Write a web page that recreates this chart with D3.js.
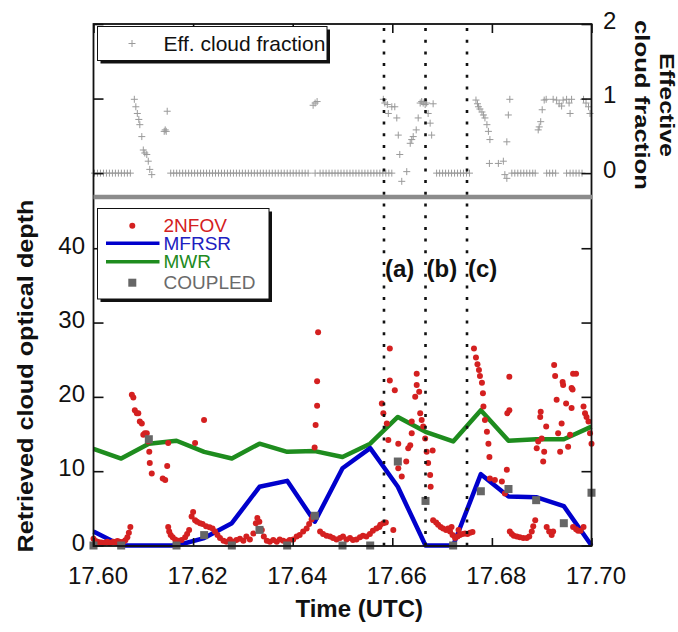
<!DOCTYPE html>
<html>
<head>
<meta charset="utf-8">
<script src="https://cdn.jsdelivr.net/npm/d3@7"></script>
<style>
  body { margin: 0; background: #fff; }
  text { font-family: "Liberation Sans", Arial, Helvetica, sans-serif; }
</style>
</head>
<body>
<svg width="678" height="632"></svg>
<script>
// retrieval times (20 s steps), hours UTC
var retrievalTimes = [17.6, 17.60556, 17.61111, 17.61667, 17.62222, 17.62778, 17.63333, 17.63889, 17.64444, 17.65,
  17.65556, 17.66111, 17.66667, 17.67222, 17.67778, 17.68333, 17.68889, 17.69444, 17.7];
var mwrTau = [13.0, 11.7, 13.7, 14.1, 12.6, 11.7, 13.7, 12.6, 12.7, 11.9, 13.7, 17.3, 15.3, 14.0, 18.2, 14.1, 14.3, 14.3, 16.0];
var mfrsrTau = [1.9, 0, 0, 0, 1.0, 3.0, 7.9, 8.7, 3.2, 10.4, 13.1, 7.9, 0, 0, 9.6, 6.6, 6.5, 5.3, 0];
var coupledTau = [0, 0, 14.3, 0, 1.4, 0, 2.1, 0, 4.0, 0, 0, 11.3, 6.0, 0, 7.3, 7.6, 6.1, 3.0, 7.1];

// 2NFOV retrievals [time, tau]
var nfov = [
  [17.6000,0.9],[17.6004,0.6],[17.6008,0.5],[17.6012,0.4],[17.6016,0.4],[17.6020,0.3],[17.6024,0.4],[17.6028,0.5],
  [17.6032,0.3],[17.6036,0.4],[17.6040,0.5],[17.6044,0.4],[17.6048,0.6],[17.6052,0.5],[17.6056,0.4],[17.6060,0.5],
  [17.6064,0.7],[17.6068,1.1],[17.6071,1.7],[17.6074,2.5],
  [17.6077,20.3],[17.6080,19.9],[17.6083,18.2],[17.6087,17.8],[17.6090,17.8],[17.6093,16.7],[17.6097,16.4],
  [17.6100,14.9],[17.6103,15.1],[17.6107,15.1],[17.6110,14.0],[17.6112,12.6],[17.6113,11.1],[17.6117,9.7],
  [17.6139,9.0],[17.6144,8.8],[17.6148,10.7],[17.6150,13.8],[17.6204,13.8],[17.6222,16.9],
  [17.6150,2.5],[17.6152,1.9],[17.6155,1.4],[17.6159,1.1],[17.6164,0.8],[17.6170,0.65],[17.6177,0.75],[17.6184,1.1],
  [17.6188,1.55],[17.6192,2.1],
  [17.6197,3.9],[17.6200,4.5],[17.6204,3.4],[17.6208,3.2],[17.6214,3.0],[17.6219,2.9],[17.6226,2.6],[17.6233,2.45],
  [17.6239,2.3],[17.6244,1.9],[17.6249,1.4],[17.6254,1.0],[17.6261,0.65],[17.6267,0.5],[17.6274,0.8],[17.6281,0.5],
  [17.6287,0.75],[17.6294,0.9],[17.6301,0.65],[17.6307,1.2],[17.6314,0.8],[17.6321,1.6],[17.6326,3.0],[17.6329,3.7],
  [17.6333,3.2],[17.6338,2.1],[17.6342,1.2],[17.6348,0.65],[17.6354,0.5],[17.6361,0.75],[17.6368,0.5],[17.6374,0.8],
  [17.6381,0.65],[17.6388,0.5],[17.6394,0.75],[17.6401,0.8],[17.6408,1.2],[17.6414,1.4],[17.6421,1.9],[17.6428,2.3],
  [17.6433,2.9],[17.6438,3.5],[17.6441,4.0],
  [17.6444,13.2],[17.6446,16.2],[17.6449,18.8],[17.6449,22.1],[17.6451,28.7],
  [17.6455,1.9],[17.6461,1.55],[17.6468,1.3],[17.6475,1.2],[17.6481,1.0],[17.6488,0.8],[17.6495,1.0],[17.6501,1.2],
  [17.6508,0.8],[17.6515,1.0],[17.6521,0.75],[17.6528,0.8],[17.6535,1.1],[17.6541,1.3],[17.6548,1.2],[17.6555,1.55],
  [17.6561,2.0],[17.6568,2.3],[17.6574,2.5],[17.6576,2.8],[17.6582,3.0],[17.6587,3.1],[17.6602,2.1],
  [17.6579,19.1],[17.6582,17.8],[17.6589,16.4],[17.6592,14.2],[17.6595,22.2],[17.6595,26.5],[17.6605,20.9],
  [17.6612,13.7],[17.6612,10.4],[17.6619,9.3],[17.6628,11.3],[17.6632,13.1],[17.6636,13.5],[17.6639,15.1],
  [17.6639,16.7],[17.6646,20.0],[17.6649,21.6],[17.6649,23.1],[17.6654,20.7],[17.6656,17.8],[17.6659,16.9],
  [17.6662,16.0],[17.6666,14.4],[17.6669,12.6],[17.6672,11.1],[17.6676,9.5],[17.6677,7.9],[17.6681,12.8],
  [17.6682,3.4],[17.6688,3.1],[17.6692,2.8],[17.6697,2.5],[17.6702,2.3],[17.6708,2.1],[17.6712,2.3],[17.6716,1.9],
  [17.6719,2.5],[17.6721,1.4],[17.6726,1.0],[17.6731,1.2],[17.6733,2.1],[17.6736,1.4],[17.6741,1.55],[17.6746,1.6],
  [17.6751,1.55],[17.6756,1.7],[17.6761,1.8],
  [17.6764,26.5],[17.6768,25.3],[17.6771,24.4],[17.6774,23.6],[17.6776,22.8],[17.6780,21.9],[17.6782,20.5],
  [17.6783,18.7],[17.6786,16.9],[17.6790,15.3],[17.6793,13.7],[17.6795,11.9],[17.6796,9.0],[17.6806,8.8],
  [17.6820,8.6],[17.6830,10.2],[17.6826,7.0],[17.6831,17.8],[17.6835,18.2],[17.6835,22.7],
  [17.6836,1.9],[17.6840,1.55],[17.6844,1.3],[17.6850,1.2],[17.6856,1.1],[17.6863,1.0],[17.6870,1.0],[17.6875,1.2],
  [17.6880,1.9],[17.6883,2.6],[17.6887,3.4],
  [17.6890,13.1],[17.6893,14.0],[17.6897,17.3],[17.6898,18.0],[17.6900,14.4],[17.6903,11.3],[17.6905,12.6],
  [17.6909,16.0],[17.6925,24.3],[17.6927,22.8],[17.6930,19.6],[17.6933,15.1],[17.6937,12.6],[17.6940,16.4],
  [17.6942,22.0],[17.6943,21.6],[17.6949,19.1],[17.6953,13.3],[17.6957,14.9],[17.6960,18.5],[17.6960,21.2],
  [17.6962,21.0],[17.6963,23.1],[17.6969,23.1],[17.6984,18.7],[17.6987,17.8],[17.6990,17.3],[17.6994,16.7],
  [17.6997,15.1],[17.7000,13.7],
  [17.6910,2.5],[17.6915,1.9],[17.6920,1.4],[17.6923,1.9],
  [17.6963,2.5],[17.6969,2.2],[17.6973,2.0],[17.6978,2.0],[17.6984,2.5]
];

// effective cloud fraction [time, fraction]
var cloudFraction = [
  [17.6002,0],[17.6008,0],[17.6014,0],[17.6020,0],[17.6026,0],[17.6032,0],[17.6038,0],[17.6044,0],[17.6050,0],
  [17.6056,0],[17.6062,0],[17.6068,0],[17.6074,0],
  [17.6082,0.99],[17.6085,0.89],[17.6088,0.80],[17.6091,0.72],[17.6093,0.65],[17.6097,0.49],[17.6100,0.31],
  [17.6103,0.27],[17.6107,0.25],[17.6110,0.16],[17.6113,0.05],[17.6117,-0.02],
  [17.6142,0.56],[17.6144,0.58],[17.6146,0.56],[17.6148,0.83],
  [17.6155,0],[17.6161,0],[17.6167,0],[17.6173,0],[17.6179,0],[17.6185,0],[17.6191,0],[17.6197,0],[17.6203,0],
  [17.6209,0],[17.6215,0],[17.6221,0],[17.6227,0],[17.6233,0],[17.6239,0],[17.6245,0],[17.6251,0],[17.6257,0],
  [17.6263,0],[17.6269,0],[17.6275,0],[17.6281,0],[17.6287,0],[17.6293,0],[17.6299,0],[17.6305,0],[17.6311,0],
  [17.6317,0],[17.6323,0],[17.6329,0],[17.6335,0],[17.6341,0],[17.6347,0],[17.6353,0],[17.6359,0],[17.6365,0],
  [17.6371,0],[17.6377,0],[17.6383,0],[17.6389,0],[17.6395,0],[17.6401,0],[17.6407,0],[17.6413,0],[17.6419,0],
  [17.6425,0],[17.6431,0],
  [17.6441,0.91],[17.6445,0.94],[17.6449,0.96],[17.6445,0],
  [17.6455,0],[17.6461,0],[17.6467,0],[17.6473,0],[17.6479,0],[17.6485,0],[17.6491,0],[17.6497,0],[17.6503,0],
  [17.6509,0],[17.6515,0],[17.6521,0],[17.6527,0],[17.6533,0],[17.6539,0],[17.6545,0],[17.6551,0],[17.6557,0],
  [17.6563,0],[17.6569,0],[17.6575,0],[17.6581,0],[17.6587,0],[17.6593,0],[17.6599,0],
  [17.6582,0.99],[17.6585,0.94],[17.6592,0.80],[17.6590,0.92],[17.6599,0.89],[17.6605,0.89],[17.6609,0.74],
  [17.6612,0.51],[17.6615,0.25],[17.6619,-0.11],[17.6629,0.02],[17.6636,0.40],[17.6639,0.45],[17.6642,0.49],
  [17.6648,0.58],[17.6652,0.74],[17.6656,0.94],[17.6659,0.96],[17.6662,0.94],[17.6666,0.92],[17.6669,0.94],
  [17.6672,0.80],[17.6676,0.67],[17.6679,0.51],[17.6682,0.93],
  [17.6689,0],[17.6695,0],[17.6701,0],[17.6707,0],[17.6713,0],[17.6719,0],[17.6725,0],[17.6731,0],[17.6737,0],
  [17.6743,0],[17.6749,0],[17.6755,0],
  [17.6768,0.98],[17.6771,0.93],[17.6773,0.89],[17.6776,0.86],[17.6780,0.82],[17.6783,0.78],[17.6786,0.74],
  [17.6790,0.65],[17.6793,0.56],[17.6796,0.45],[17.6795,0.13],[17.6813,0.13],[17.6823,0.16],[17.6826,-0.02],
  [17.6830,-0.07],[17.6830,0.42],[17.6833,0.78],[17.6836,0.99],
  [17.6840,0],[17.6846,0],[17.6852,0],[17.6858,0],[17.6864,0],[17.6870,0],[17.6876,0],[17.6882,0],[17.6887,0],
  [17.6893,0.58],[17.6895,0.62],[17.6898,0.69],[17.6901,0.85],[17.6905,0.98],[17.6909,0.99],[17.6923,0.99],
  [17.6930,0.98],[17.6935,0.93],[17.6940,0.90],[17.6943,0.98],[17.6950,0.99],[17.6955,0.94],[17.6957,0.80],
  [17.6960,0.99],[17.6984,0.99],[17.6989,0.94],[17.6994,0.89],[17.6997,0.80],
  [17.6910,0],[17.6916,0],[17.6922,0],[17.6928,0],[17.6950,0],[17.6957,0],[17.6963,0],[17.6969,0],[17.6975,0],
  [17.6981,0]
];

var eventTimes = [17.65833, 17.66667, 17.675];
var eventLabels = ["(a)", "(b)", "(c)"];
var timeTicks = [17.60, 17.62, 17.64, 17.66, 17.68, 17.70];
var tauTicks = [0, 10, 20, 30, 40];
var fractionTicks = [0, 1, 2];
var seriesNames = ["2NFOV", "MFRSR", "MWR", "COUPLED"];
var seriesColors = ["#d42020", "#0000cc", "#1e8c1e", "#666666"];

var svg = d3.select("svg");
var left = 93.5, right = 591.5, top1 = 24, mid = 197, bottom = 546;

var xScale = d3.scaleLinear().domain([17.6, 17.7]).range([left, right]);
var yTop = d3.scaleLinear().domain([-0.3, 2]).range([mid - 1.5, top1]);
var yBot = d3.scaleLinear().domain([0, 46.8]).range([545.5, mid + 0.7]);

// ---- top panel
var topG = svg.append("g");
topG.selectAll("path.cf")
  .data(cloudFraction)
  .enter()
  .append("path")
  .attr("class", "cf")
  .attr("d", function (d) {
    var x = xScale(d[0]), y = yTop(d[1]);
    return "M" + (x - 3.5) + "," + y + "H" + (x + 3.5) + "M" + x + "," + (y - 3.5) + "V" + (y + 3.5);
  })
  .attr("stroke", "#9a9a9a")
  .attr("stroke-width", 1)
  .attr("fill", "none");

// ---- bottom panel lines
var line = d3.line()
  .x(function (d) { return xScale(d[0]) })
  .y(function (d) { return yBot(d[1]) });

svg.append("path")
  .datum(d3.zip(retrievalTimes, mwrTau))
  .attr("d", line)
  .attr("fill", "none")
  .attr("stroke", seriesColors[2])
  .attr("stroke-width", 4.5)
  .attr("stroke-linejoin", "round");

svg.append("path")
  .datum(d3.zip(retrievalTimes, mfrsrTau))
  .attr("d", line)
  .attr("fill", "none")
  .attr("stroke", seriesColors[1])
  .attr("stroke-width", 4.5)
  .attr("stroke-linejoin", "round");

svg.selectAll("circle.nfov")
  .data(nfov)
  .enter()
  .append("circle")
  .attr("class", "nfov")
  .attr("cx", function (d) { return xScale(d[0]) })
  .attr("cy", function (d) { return yBot(d[1]) })
  .attr("r", 3)
  .attr("fill", seriesColors[0]);

svg.selectAll("rect.coupled")
  .data(d3.zip(retrievalTimes, coupledTau))
  .enter()
  .append("rect")
  .attr("class", "coupled")
  .attr("x", function (d) { return xScale(d[0]) - 4 })
  .attr("y", function (d) { return yBot(d[1]) - 4 })
  .attr("width", 8)
  .attr("height", 8)
  .attr("fill", seriesColors[3]);

// ---- event markers
svg.selectAll("line.event")
  .data(eventTimes)
  .enter()
  .append("line")
  .attr("class", "event")
  .attr("x1", function (d) { return xScale(d) })
  .attr("x2", function (d) { return xScale(d) })
  .attr("y1", top1 + 4)
  .attr("y2", bottom)
  .attr("stroke", "#111")
  .attr("stroke-width", 2.6)
  .attr("stroke-dasharray", "3,8.7");

svg.selectAll("text.event")
  .data(eventTimes)
  .enter()
  .append("text")
  .attr("class", "event")
  .attr("x", function (d) { return xScale(d) + 1 })
  .attr("y", 277)
  .attr("font-size", 24)
  .attr("font-weight", "bold")
  .attr("fill", "#111")
  .text(function (d, i) { return eventLabels[i] });

// ---- axes
function styleAxis(g) {
  g.select(".domain").remove();
  g.selectAll("line").attr("stroke", "#111").attr("stroke-width", 1.6);
  g.selectAll("text").attr("font-size", 24).attr("fill", "#111")
    .attr("font-family", "Liberation Sans, Arial, sans-serif");
}

svg.append("g").attr("transform", "translate(0," + bottom + ")")
  .call(d3.axisBottom(xScale).tickValues(timeTicks).tickFormat(d3.format(".2f"))
    .tickSizeInner(-8).tickSizeOuter(0).tickPadding(21))
  .call(styleAxis)
  .selectAll("text").attr("dx", 4);

svg.append("g").attr("transform", "translate(0," + top1 + ")")
  .call(d3.axisTop(xScale).tickValues(timeTicks).tickFormat("").tickSizeInner(-9).tickSizeOuter(0))
  .call(styleAxis);

svg.append("g").attr("transform", "translate(" + left + ",0)")
  .call(d3.axisLeft(yBot).tickValues(tauTicks).tickSizeInner(-10).tickSizeOuter(0).tickPadding(8.5))
  .call(styleAxis)
  .selectAll("text").attr("dy", "0.2em");

svg.append("g").attr("transform", "translate(" + right + ",0)")
  .call(d3.axisRight(yBot).tickValues(tauTicks).tickFormat("").tickSizeInner(-10).tickSizeOuter(0))
  .call(styleAxis);

svg.append("g").attr("transform", "translate(" + left + ",0)")
  .call(d3.axisLeft(yTop).tickValues(fractionTicks).tickFormat("").tickSizeInner(-10).tickSizeOuter(0))
  .call(styleAxis);

svg.append("g").attr("transform", "translate(" + right + ",0)")
  .call(d3.axisRight(yTop).tickValues(fractionTicks).tickFormat(d3.format("d")).tickSizeInner(-10).tickSizeOuter(0).tickPadding(11.5))
  .call(styleAxis)
  .selectAll("text").attr("dy", "0.18em");

// frame
svg.append("rect")
  .attr("x", left).attr("y", top1)
  .attr("width", right - left).attr("height", bottom - top1)
  .attr("fill", "none").attr("stroke", "#111").attr("stroke-width", 1.8);

// separator band
svg.append("line")
  .attr("x1", left).attr("x2", right + 1)
  .attr("y1", mid).attr("y2", mid)
  .attr("stroke", "#8c8c8c").attr("stroke-width", 4.5);

// ---- legends
function legendBox(x, y, w, h) {
  svg.append("rect").attr("x", x + 3).attr("y", y + 3).attr("width", w).attr("height", h).attr("fill", "#111");
  svg.append("rect").attr("x", x).attr("y", y).attr("width", w).attr("height", h)
    .attr("fill", "#fff").attr("stroke", "#111").attr("stroke-width", 1);
}

legendBox(97.5, 26.5, 229.5, 34);
svg.append("path")
  .attr("d", "M128.5,43.5H135.5M132,40V47")
  .attr("stroke", "#9a9a9a").attr("stroke-width", 1);
svg.append("text").attr("x", 163.5).attr("y", 50.5)
  .attr("font-size", 21).attr("fill", "#111").text("Eff. cloud fraction");

legendBox(97.5, 208.5, 171.5, 90.5);
var legY = [225.7, 243.3, 261.8, 282.7];
var legG = svg.append("g");
legG.append("circle").attr("cx", 132.3).attr("cy", legY[0]).attr("r", 3).attr("fill", seriesColors[0]);
legG.append("line").attr("x1", 106).attr("x2", 159.5).attr("y1", legY[1]).attr("y2", legY[1])
  .attr("stroke", seriesColors[1]).attr("stroke-width", 3.5);
legG.append("line").attr("x1", 106).attr("x2", 159.5).attr("y1", legY[2]).attr("y2", legY[2])
  .attr("stroke", seriesColors[2]).attr("stroke-width", 3.5);
legG.append("rect").attr("x", 128.3).attr("y", legY[3] - 4).attr("width", 8).attr("height", 8).attr("fill", seriesColors[3]);
legG.selectAll("text")
  .data(seriesNames)
  .enter()
  .append("text")
  .attr("x", 163.5)
  .attr("y", function (d, i) { return legY[i] + 6.3 })
  .attr("font-size", 19)
  .attr("fill", function (d, i) { return i == 0 ? "#d42020" : i == 1 ? "#2020c0" : i == 2 ? "#218a21" : "#6a6a6a" })
  .text(function (d) { return d });

// ---- titles
svg.append("text")
  .attr("transform", "translate(33,376) rotate(-90)")
  .attr("text-anchor", "middle")
  .attr("font-size", 22).attr("font-weight", "bold").attr("fill", "#111")
  .attr("textLength", 353).attr("lengthAdjust", "spacingAndGlyphs")
  .text("Retrieved cloud optical depth");

svg.append("text")
  .attr("transform", "translate(660,105) rotate(90)")
  .attr("text-anchor", "middle")
  .attr("font-size", 20).attr("font-weight", "bold").attr("fill", "#111")
  .attr("textLength", 104).attr("lengthAdjust", "spacingAndGlyphs")
  .text("Effective");

svg.append("text")
  .attr("transform", "translate(635,105) rotate(90)")
  .attr("text-anchor", "middle")
  .attr("font-size", 20).attr("font-weight", "bold").attr("fill", "#111")
  .attr("textLength", 170).attr("lengthAdjust", "spacingAndGlyphs")
  .text("cloud fraction");

svg.append("text")
  .attr("x", 423).attr("y", 617)
  .attr("text-anchor", "end")
  .attr("font-size", 24).attr("font-weight", "bold").attr("fill", "#111")
  .text("Time (UTC)");
</script>
</body>
</html>
